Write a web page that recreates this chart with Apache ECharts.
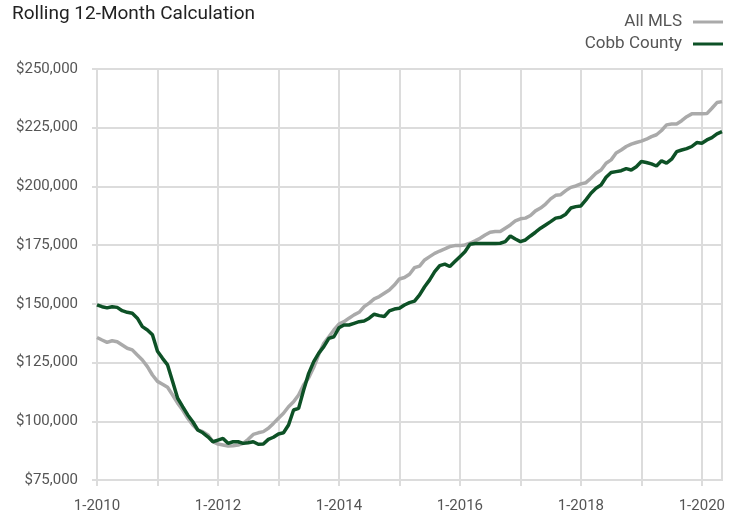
<!DOCTYPE html>
<html>
<head>
<meta charset="utf-8">
<script src="https://cdn.jsdelivr.net/npm/echarts@6/dist/echarts.min.js"></script>
<style>
  html, body { margin: 0; padding: 0; background: #fff; }
  #main { width: 740px; height: 515px; }
</style>
</head>
<body>
<div id="main"></div>
<script>
var myChart = echarts.init(document.getElementById('main'));

// monthly, 1-2010 .. 5-2020
var START_YEAR = 2010;
var MONTH_COUNT = 125;
var months = [];
for (var i = 0; i < MONTH_COUNT; i++) {
    months.push((i % 12 + 1) + '-' + (START_YEAR + Math.floor(i / 12)));
}

var allMls = [
    135700, 134600, 133600, 134300, 133900, 132500, 131100, 130400, 128200, 126100, 123300, 119700,
    117000, 115800, 114500, 111200, 107700, 104800, 101300, 98400, 96300, 95600, 94200, 91300,
    90300, 89900, 89500, 89600, 89900, 90600, 92300, 94400, 95100, 95600, 97000, 99100,
    101300, 103400, 106200, 108300, 111200, 115500, 118500, 123000, 128500, 133200, 136000, 138900,
    141400, 142400, 143900, 145300, 146400, 148800, 150300, 152100, 153100, 154500, 155900, 158000,
    160600, 161200, 162600, 165400, 166100, 168700, 170100, 171500, 172500, 173400, 174400, 174800,
    174800, 175100, 175800, 176800, 177900, 179300, 180500, 180800, 180800, 182200, 183600, 185300,
    186200, 186500, 187600, 189600, 190800, 192500, 194700, 196200, 196500, 198200, 199600, 200200,
    201100, 201600, 203500, 205600, 207000, 209900, 211300, 214200, 215500, 217000, 218000, 218700,
    219300, 220100, 221200, 222000, 223800, 226200, 226600, 226600, 228000, 229700, 230900, 230900,
    230900, 231000, 233300, 235700, 236100
];

var cobbCounty = [
    149600, 148800, 148300, 148800, 148500, 147100, 146400, 146000, 143900, 140300, 138900, 136800,
    129800, 126800, 124000, 116900, 109800, 106200, 102700, 99800, 96300, 95100, 93400, 91300,
    92000, 92700, 90600, 91300, 91300, 90600, 90900, 91300, 90200, 90300, 92300, 93200,
    94600, 95100, 98400, 104800, 105500, 113300, 120400, 125400, 129000, 131800, 135300, 136000,
    139800, 141000, 141000, 141700, 142400, 142700, 143900, 145600, 145000, 144600, 147000, 147800,
    148100, 149500, 150500, 151200, 153800, 157300, 160200, 163700, 166300, 166900, 165900, 168000,
    170100, 172200, 175400, 175700, 175700, 175700, 175700, 175700, 175800, 176500, 178900, 177600,
    176500, 177200, 178900, 180500, 182200, 183600, 185000, 186500, 186900, 188200, 190800, 191400,
    191700, 194300, 197100, 199200, 200600, 203900, 205900, 206300, 206700, 207600, 207000, 208400,
    210600, 210200, 209600, 208700, 210900, 209900, 211600, 214800, 215500, 216100, 217000, 218700,
    218400, 219800, 220800, 222400, 223300
];

var seriesNames = ['All MLS', 'Cobb County'];
var seriesColors = ['#aaaaaa', '#0d5126'];

var FONT = 'Roboto, "Liberation Sans", sans-serif';
var GRID_COLOR = '#dcdcdc';

function money(v) {
    return '$' + String(v).replace(/\B(?=(\d{3})+(?!\d))/g, ',');
}

var option = {
    backgroundColor: '#fff',
    animation: false,
    title: {
        text: 'Rolling 12-Month Calculation',
        left: 12,
        top: 5,
        padding: 0,
        textStyle: { fontFamily: FONT, fontSize: 19, fontWeight: 'normal', color: '#222' }
    },
    legend: {
        data: seriesNames,
        orient: 'vertical',
        align: 'right',
        right: 17,
        top: 11,
        padding: 0,
        itemGap: 0,
        itemWidth: 30,
        itemHeight: 3,
        icon: 'rect',
        textStyle: { fontFamily: FONT, fontSize: 17, color: '#555', lineHeight: 22, padding: [0, 6, 0, 0] }
    },
    grid: {
        left: 97,
        right: 18,
        top: 69,
        bottom: 35,
        show: true,
        borderColor: GRID_COLOR,
        borderWidth: 2
    },
    xAxis: {
        type: 'category',
        data: months,
        boundaryGap: false,
        axisLine: { show: true, lineStyle: { color: GRID_COLOR, width: 2 } },
        axisTick: {
            show: true,
            length: 6,
            interval: function (idx) { return idx % 12 === 0; },
            lineStyle: { color: GRID_COLOR, width: 2 }
        },
        splitLine: {
            show: true,
            interval: function (idx) { return idx % 12 === 0; },
            lineStyle: { color: GRID_COLOR, width: 2 }
        },
        axisLabel: {
            interval: function (idx) { return idx % 24 === 0; },
            margin: 19,
            fontFamily: FONT,
            fontSize: 15,
            color: '#555'
        }
    },
    yAxis: {
        type: 'value',
        min: 75000,
        max: 250000,
        interval: 25000,
        axisLine: { show: false },
        axisTick: { show: true, length: 5, lineStyle: { color: GRID_COLOR, width: 2 } },
        splitLine: { show: true, lineStyle: { color: GRID_COLOR, width: 2 } },
        axisLabel: {
            margin: 19,
            fontFamily: FONT,
            fontSize: 15,
            color: '#555',
            formatter: money
        }
    },
    series: [{
        name: seriesNames[0],
        type: 'line',
        data: allMls,
        symbol: 'none',
        color: seriesColors[0],
        lineStyle: { width: 3.5, color: seriesColors[0] }
    }, {
        name: seriesNames[1],
        type: 'line',
        data: cobbCounty,
        symbol: 'none',
        color: seriesColors[1],
        lineStyle: { width: 3.5, color: seriesColors[1] }
    }]
};

myChart.setOption(option);
</script>
</body>
</html>
